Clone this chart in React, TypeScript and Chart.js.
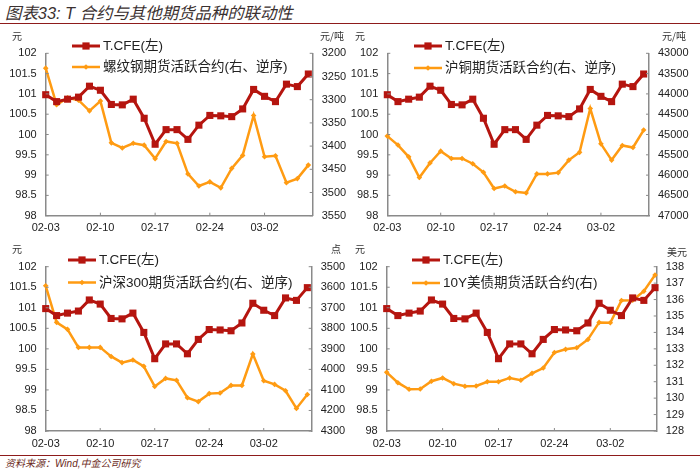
import React, { useEffect, useRef } from 'react';
import { Chart, registerables } from 'chart.js';
Chart.register(...registerables);

const dates = ['02-03','02-04','02-05','02-06','02-07','02-10','02-11','02-12','02-13','02-14','02-17','02-18','02-19','02-20','02-21','02-24','02-25','02-26','02-27','02-28','03-02','03-03','03-04','03-05','03-06'];
const tcfe = [100.98,100.81,100.87,100.92,101.19,101.09,100.74,100.73,100.87,100.40,99.76,100.12,100.12,99.88,100.23,100.47,100.46,100.44,100.63,101.11,100.94,100.81,101.24,101.18,101.49];
const rebar = [3232,3311,3296,3301,3324,3303,3393,3404,3394,3398,3427,3390,3394,3460,3486,3477,3490,3448,3420,3334,3423,3421,3479,3470,3441];
const copper = [45040,45260,45550,46060,45700,45410,45590,45590,45720,45930,46330,46270,46410,46440,45970,45970,45940,45630,45440,44360,45230,45630,45270,45320,44890];
const csi300 = [3593,3771,3805,3893,3893,3893,3937,3967,3954,3985,4083,4044,4053,4138,4157,4118,4115,4078,4078,3925,4055,4073,4104,4190,4122];
const ust10y = [131.57,130.94,130.54,130.56,131.03,131.23,130.88,130.72,130.74,131.00,131.00,131.23,131.09,131.51,131.83,132.78,132.97,133.07,133.57,134.61,134.59,135.94,135.96,136.51,137.49];

const tcfeLabel = 'T.CFE(左)';
const seriesLabels = ['螺纹钢期货活跃合约(右、逆序)', '沪铜期货活跃合约(右、逆序)', '沪深300期货活跃合约(右、逆序)', '10Y美债期货活跃合约(右)'];
const leftRange = [98, 102, 0.5];
const rightRanges = [
  [3200, 3550, 50],
  [43000, 47000, 500],
  [3500, 4300, 100],
  [128, 138, 1],
];
const rightReversed = [true, true, true, false];
const rightUnits = ['元/吨', '元/吨', '点', '美元'];
const leftUnit = '元';
const title = '图表33: T 合约与其他期货品种的联动性';
const source = '资料来源：Wind,中金公司研究';

const RED = '#B5150F';
const ORANGE = '#FF9B12';
const AXIS = '#8a8a8a';
const DARKRED = '#8E1B1B';
const FONT = '"Liberation Sans", Arial, "Noto Sans CJK SC", sans-serif';

type Layout = {
  left: number; top: number; xMax: number; leftW: number; rightW: number;
  padTop: number; xH: number; lx: number; ly1: number; ly2: number;
};

const layouts: Layout[] = [
  { left: 0, top: 28, xMax: 24.4, leftW: 45.7, rightW: 37.3, padTop: 25.3, xH: 24.3, lx: 72, ly1: 18, ly2: 39 },
  { left: 350, top: 28, xMax: 24.5, leftW: 37.3, rightW: 51, padTop: 25.3, xH: 24.3, lx: 64, ly1: 18, ly2: 40 },
  { left: 0, top: 240, xMax: 24.4, leftW: 45.7, rightW: 38.3, padTop: 26.7, xH: 21, lx: 68, ly1: 20, ly2: 42.5 },
  { left: 350, top: 240, xMax: 24.15, leftW: 36.7, rightW: 43.3, padTop: 26.7, xH: 21, lx: 62, ly1: 20, ly2: 43 },
];

const innerTicks = {
  id: 'innerTicks',
  afterDraw(chart: any) {
    const ctx = chart.ctx;
    const { x, y, y1 } = chart.scales;
    const L = 3;
    ctx.save();
    ctx.strokeStyle = AXIS;
    ctx.lineWidth = 1;
    ctx.beginPath();
    x.ticks.forEach((t: any) => {
      const px = x.getPixelForValue(t.value);
      if (Math.abs(px - x.left) < 1) return;
      ctx.moveTo(px, x.top);
      ctx.lineTo(px, x.top - L);
    });
    y.ticks.forEach((t: any) => {
      const py = y.getPixelForValue(t.value);
      ctx.moveTo(y.right, py);
      ctx.lineTo(y.right + L, py);
    });
    y1.ticks.forEach((t: any) => {
      const py = y1.getPixelForValue(t.value);
      ctx.moveTo(y1.left, py);
      ctx.lineTo(y1.left - L, py);
    });
    ctx.stroke();
    ctx.restore();
  },
};

const customLegend = {
  id: 'customLegend',
  afterDraw(chart: any, _args: any, opts: any) {
    const ctx = chart.ctx;
    const rows = [opts.y1, opts.y2];
    ctx.save();
    chart.data.datasets.forEach((ds: any, i: number) => {
      const yy = rows[i];
      const x0 = opts.x;
      const x1 = x0 + 28;
      ctx.strokeStyle = ds.borderColor;
      ctx.lineWidth = ds.borderWidth;
      ctx.beginPath();
      ctx.moveTo(x0, yy);
      ctx.lineTo(x1, yy);
      ctx.stroke();
      const cx = (x0 + x1) / 2;
      ctx.fillStyle = ds.borderColor;
      if (ds.pointStyle === 'rect') {
        ctx.fillRect(cx - 3.6, yy - 3.6, 7.2, 7.2);
      } else {
        ctx.beginPath();
        ctx.moveTo(cx, yy - 2.8);
        ctx.lineTo(cx + 2.8, yy);
        ctx.lineTo(cx, yy + 2.8);
        ctx.lineTo(cx - 2.8, yy);
        ctx.closePath();
        ctx.fill();
      }
      ctx.fillStyle = '#222';
      ctx.font = '13.5px ' + FONT;
      ctx.textBaseline = 'middle';
      ctx.textAlign = 'left';
      ctx.fillText(ds.label, x1 + 3, yy + 0.5);
    });
    ctx.restore();
  },
};

function Panel({ idx }: { idx: number }) {
  const ref = useRef<HTMLCanvasElement>(null);
  const lay = layouts[idx];
  useEffect(() => {
    if (!ref.current) return;
    const series = [rebar, copper, csi300, ust10y][idx];
    const [rMin, rMax, rStep] = rightRanges[idx];
    const tickFont = { size: 11, family: FONT };
    const chart = new Chart(ref.current, {
      type: 'line',
      data: {
        datasets: [
          {
            label: tcfeLabel,
            data: tcfe.map((v, i) => ({ x: i, y: v })),
            yAxisID: 'y',
            borderColor: RED,
            backgroundColor: RED,
            borderWidth: 3,
            pointStyle: 'rect',
            pointRadius: 5,
            pointBorderWidth: 0,
            pointHoverRadius: 5,
            tension: 0,
            clip: false,
          } as any,
          {
            label: seriesLabels[idx],
            data: series.map((v, i) => ({ x: i, y: v })),
            yAxisID: 'y1',
            borderColor: ORANGE,
            backgroundColor: ORANGE,
            borderWidth: 2.5,
            pointStyle: 'rectRot',
            pointRadius: 2.8,
            pointBorderWidth: 0,
            pointHoverRadius: 2.8,
            tension: 0,
            clip: false,
          } as any,
        ],
      },
      options: {
        animation: false,
        responsive: true,
        maintainAspectRatio: false,
        events: [],
        layout: { padding: { top: lay.padTop, left: 0, right: 0, bottom: 0 } },
        plugins: {
          legend: { display: false },
          tooltip: { enabled: false },
          customLegend: { x: lay.lx, y1: lay.ly1, y2: lay.ly2 },
        } as any,
        scales: {
          x: {
            type: 'linear',
            min: 0,
            max: lay.xMax,
            grid: { display: false, drawTicks: false },
            border: { display: true, color: AXIS, width: 1.5 },
            afterBuildTicks: (s: any) => {
              s.ticks = dates.map((_, i) => i).filter((i) => i % 5 === 0).map((i) => ({ value: i }));
            },
            afterFit: (s: any) => { s.height = lay.xH; },
            ticks: {
              autoSkip: false,
              maxRotation: 0,
              padding: 6,
              color: '#222',
              font: tickFont,
              callback: (v: any) => dates[v] ?? '',
            },
          },
          y: {
            position: 'left',
            min: leftRange[0],
            max: leftRange[1],
            grid: { display: false, drawTicks: false },
            border: { display: true, color: AXIS, width: 1.5 },
            afterFit: (s: any) => { s.width = lay.leftW; },
            ticks: {
              stepSize: leftRange[2],
              padding: 9,
              color: '#222',
              font: tickFont,
              callback: (v: any) => String(v),
            },
          },
          y1: {
            position: 'right',
            min: rMin,
            max: rMax,
            reverse: rightReversed[idx],
            grid: { display: false, drawTicks: false },
            border: { display: true, color: AXIS, width: 1.5 },
            afterFit: (s: any) => { s.width = lay.rightW; },
            ticks: {
              stepSize: rStep,
              padding: 9,
              color: '#222',
              font: tickFont,
              callback: (v: any) => String(v),
            },
          },
        },
      } as any,
      plugins: [innerTicks, customLegend],
    });
    return () => chart.destroy();
  }, [idx]);
  return (
    <div style={{ position: 'absolute', left: lay.left, top: lay.top, width: 350, height: 212 }}>
      <canvas ref={ref} />
    </div>
  );
}

const unitStyle: React.CSSProperties = {
  position: 'absolute',
  fontSize: 10,
  fontFamily: '"Noto Sans CJK SC", sans-serif',
  color: '#333',
  lineHeight: '12px',
  whiteSpace: 'nowrap',
};

export default function App() {
  const unitPos = [
    { l: [12, 30], r: [320, 30] },
    { l: [355, 30], r: [662, 30] },
    { l: [12, 243], r: [331, 243] },
    { l: [355, 243], r: [667, 246] },
  ];
  return (
    <div style={{ position: 'absolute', left: 0, top: 0, width: 700, height: 473, background: '#fff', overflow: 'hidden' }}>
      <div style={{ position: 'absolute', left: 5, top: 3, fontSize: 16.4, fontStyle: 'italic', fontFamily: FONT, color: '#3a3030', lineHeight: '20px', whiteSpace: 'nowrap' }}>{title}</div>
      <div style={{ position: 'absolute', left: 0, top: 22.8, width: 700, height: 1.5, background: DARKRED }} />
      {layouts.map((_, i) => <Panel key={i} idx={i} />)}
      {unitPos.map((u, i) => (
        <React.Fragment key={i}>
          <div style={{ ...unitStyle, left: u.l[0], top: u.l[1] }}>{leftUnit}</div>
          <div style={{ ...unitStyle, left: u.r[0], top: u.r[1] }}>{rightUnits[i]}</div>
        </React.Fragment>
      ))}
      <div style={{ position: 'absolute', left: 0, top: 454.5, width: 700, height: 1.5, background: DARKRED }} />
      <div style={{ position: 'absolute', left: 5, top: 457, fontSize: 10, fontStyle: 'italic', fontFamily: FONT, color: '#6b2a22', lineHeight: '14px', whiteSpace: 'nowrap' }}>{source}</div>
    </div>
  );
}
